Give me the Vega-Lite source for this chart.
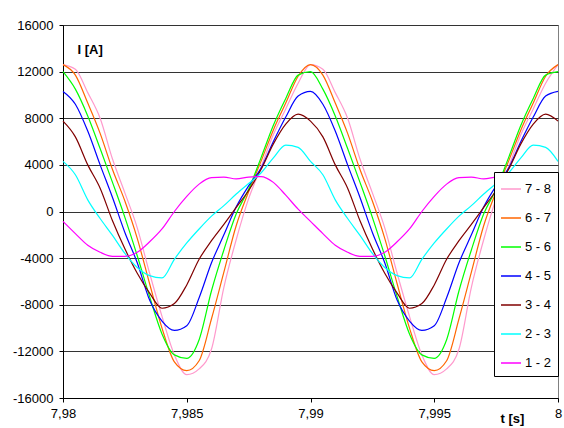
{
"$schema": "https://vega.github.io/schema/vega-lite/v6.json",
"width": 495, "height": 373,
"autosize": {"type": "none"},
"padding": {"left": 63, "top": 25, "right": 6, "bottom": 30},
"background": "white",
"config": {
  "locale": {"number": {"decimal": ",", "thousands": ".", "grouping": [3], "currency": ["", ""], "minus": "-"}},
  "view": {"stroke": "#808080", "strokeWidth": 1},
  "axis": {"labelFont": "Liberation Sans", "labelFontSize": 13, "labelColor": "#000", "titleFont": "Liberation Sans", "titleFontSize": 13, "titleColor": "#000", "domainColor": "#000", "tickColor": "#000", "labelFlush": false, "labelOverlap": false}
},
"data": {"values": [
{"t":7.98,"s":"7 - 8","v":12600},{"t":7.9805,"s":"7 - 8","v":12200},{"t":7.981,"s":"7 - 8","v":10200},{"t":7.9815,"s":"7 - 8","v":8000},{"t":7.982,"s":"7 - 8","v":4500},{"t":7.9825,"s":"7 - 8","v":1600},{"t":7.983,"s":"7 - 8","v":-1400},{"t":7.9835,"s":"7 - 8","v":-5300},{"t":7.984,"s":"7 - 8","v":-9000},{"t":7.9845,"s":"7 - 8","v":-12300},{"t":7.985,"s":"7 - 8","v":-14000},{"t":7.9855,"s":"7 - 8","v":-13500},{"t":7.986,"s":"7 - 8","v":-11800},{"t":7.9865,"s":"7 - 8","v":-6500},{"t":7.987,"s":"7 - 8","v":-2400},{"t":7.9875,"s":"7 - 8","v":1100},{"t":7.988,"s":"7 - 8","v":3800},{"t":7.9885,"s":"7 - 8","v":6600},{"t":7.989,"s":"7 - 8","v":8800},{"t":7.9895,"s":"7 - 8","v":11000},{"t":7.99,"s":"7 - 8","v":12600},
{"t":7.9905,"s":"7 - 8","v":12200},{"t":7.991,"s":"7 - 8","v":10200},{"t":7.9915,"s":"7 - 8","v":8000},{"t":7.992,"s":"7 - 8","v":4500},{"t":7.9925,"s":"7 - 8","v":1600},{"t":7.993,"s":"7 - 8","v":-1400},{"t":7.9935,"s":"7 - 8","v":-5300},{"t":7.994,"s":"7 - 8","v":-9000},{"t":7.9945,"s":"7 - 8","v":-12300},{"t":7.995,"s":"7 - 8","v":-14000},{"t":7.9955,"s":"7 - 8","v":-13500},{"t":7.996,"s":"7 - 8","v":-11800},{"t":7.9965,"s":"7 - 8","v":-6500},{"t":7.997,"s":"7 - 8","v":-2400},{"t":7.9975,"s":"7 - 8","v":1100},{"t":7.998,"s":"7 - 8","v":3800},{"t":7.9985,"s":"7 - 8","v":6600},{"t":7.999,"s":"7 - 8","v":8800},{"t":7.9995,"s":"7 - 8","v":11000},{"t":8,"s":"7 - 8","v":12600},
{"t":7.98,"s":"6 - 7","v":12600},{"t":7.9805,"s":"6 - 7","v":11700},{"t":7.981,"s":"6 - 7","v":9300},{"t":7.9815,"s":"6 - 7","v":6700},{"t":7.982,"s":"6 - 7","v":3600},{"t":7.9825,"s":"6 - 7","v":900},{"t":7.983,"s":"6 - 7","v":-2300},{"t":7.9835,"s":"6 - 7","v":-6200},{"t":7.984,"s":"6 - 7","v":-10000},{"t":7.9845,"s":"6 - 7","v":-12900},{"t":7.985,"s":"6 - 7","v":-13650},{"t":7.9855,"s":"6 - 7","v":-12800},{"t":7.986,"s":"6 - 7","v":-9200},{"t":7.9865,"s":"6 - 7","v":-5200},{"t":7.987,"s":"6 - 7","v":-1200},{"t":7.9875,"s":"6 - 7","v":1700},{"t":7.988,"s":"6 - 7","v":4300},{"t":7.9885,"s":"6 - 7","v":7000},{"t":7.989,"s":"6 - 7","v":9300},{"t":7.9895,"s":"6 - 7","v":11600},{"t":7.99,"s":"6 - 7","v":12600},
{"t":7.9905,"s":"6 - 7","v":11700},{"t":7.991,"s":"6 - 7","v":9300},{"t":7.9915,"s":"6 - 7","v":6700},{"t":7.992,"s":"6 - 7","v":3600},{"t":7.9925,"s":"6 - 7","v":900},{"t":7.993,"s":"6 - 7","v":-2300},{"t":7.9935,"s":"6 - 7","v":-6200},{"t":7.994,"s":"6 - 7","v":-10000},{"t":7.9945,"s":"6 - 7","v":-12900},{"t":7.995,"s":"6 - 7","v":-13650},{"t":7.9955,"s":"6 - 7","v":-12800},{"t":7.996,"s":"6 - 7","v":-9200},{"t":7.9965,"s":"6 - 7","v":-5200},{"t":7.997,"s":"6 - 7","v":-1200},{"t":7.9975,"s":"6 - 7","v":1700},{"t":7.998,"s":"6 - 7","v":4300},{"t":7.9985,"s":"6 - 7","v":7000},{"t":7.999,"s":"6 - 7","v":9300},{"t":7.9995,"s":"6 - 7","v":11600},{"t":8,"s":"6 - 7","v":12600},
{"t":7.98,"s":"5 - 6","v":12000},{"t":7.9805,"s":"5 - 6","v":10500},{"t":7.981,"s":"5 - 6","v":8200},{"t":7.9815,"s":"5 - 6","v":5400},{"t":7.982,"s":"5 - 6","v":2500},{"t":7.9825,"s":"5 - 6","v":-500},{"t":7.983,"s":"5 - 6","v":-3800},{"t":7.9835,"s":"5 - 6","v":-7300},{"t":7.984,"s":"5 - 6","v":-10500},{"t":7.9845,"s":"5 - 6","v":-12300},{"t":7.985,"s":"5 - 6","v":-12600},{"t":7.9855,"s":"5 - 6","v":-11000},{"t":7.986,"s":"5 - 6","v":-6800},{"t":7.9865,"s":"5 - 6","v":-3300},{"t":7.987,"s":"5 - 6","v":-200},{"t":7.9875,"s":"5 - 6","v":1900},{"t":7.988,"s":"5 - 6","v":4600},{"t":7.9885,"s":"5 - 6","v":7400},{"t":7.989,"s":"5 - 6","v":9700},{"t":7.9895,"s":"5 - 6","v":11700},{"t":7.99,"s":"5 - 6","v":12000},
{"t":7.9905,"s":"5 - 6","v":10500},{"t":7.991,"s":"5 - 6","v":8200},{"t":7.9915,"s":"5 - 6","v":5400},{"t":7.992,"s":"5 - 6","v":2500},{"t":7.9925,"s":"5 - 6","v":-500},{"t":7.993,"s":"5 - 6","v":-3800},{"t":7.9935,"s":"5 - 6","v":-7300},{"t":7.994,"s":"5 - 6","v":-10500},{"t":7.9945,"s":"5 - 6","v":-12300},{"t":7.995,"s":"5 - 6","v":-12600},{"t":7.9955,"s":"5 - 6","v":-11000},{"t":7.996,"s":"5 - 6","v":-6800},{"t":7.9965,"s":"5 - 6","v":-3300},{"t":7.997,"s":"5 - 6","v":-200},{"t":7.9975,"s":"5 - 6","v":1900},{"t":7.998,"s":"5 - 6","v":4600},{"t":7.9985,"s":"5 - 6","v":7400},{"t":7.999,"s":"5 - 6","v":9700},{"t":7.9995,"s":"5 - 6","v":11700},{"t":8,"s":"5 - 6","v":12000},
{"t":7.98,"s":"4 - 5","v":10300},{"t":7.9805,"s":"4 - 5","v":9200},{"t":7.981,"s":"4 - 5","v":6900},{"t":7.9815,"s":"4 - 5","v":4000},{"t":7.982,"s":"4 - 5","v":1200},{"t":7.9825,"s":"4 - 5","v":-1800},{"t":7.983,"s":"4 - 5","v":-4400},{"t":7.9835,"s":"4 - 5","v":-7600},{"t":7.984,"s":"4 - 5","v":-9400},{"t":7.9845,"s":"4 - 5","v":-10200},{"t":7.985,"s":"4 - 5","v":-9800},{"t":7.9855,"s":"4 - 5","v":-7400},{"t":7.986,"s":"4 - 5","v":-4400},{"t":7.9865,"s":"4 - 5","v":-2000},{"t":7.987,"s":"4 - 5","v":400},{"t":7.9875,"s":"4 - 5","v":2200},{"t":7.988,"s":"4 - 5","v":3700},{"t":7.9885,"s":"4 - 5","v":6000},{"t":7.989,"s":"4 - 5","v":8100},{"t":7.9895,"s":"4 - 5","v":9900},{"t":7.99,"s":"4 - 5","v":10300},
{"t":7.9905,"s":"4 - 5","v":9200},{"t":7.991,"s":"4 - 5","v":6900},{"t":7.9915,"s":"4 - 5","v":4000},{"t":7.992,"s":"4 - 5","v":1200},{"t":7.9925,"s":"4 - 5","v":-1800},{"t":7.993,"s":"4 - 5","v":-4400},{"t":7.9935,"s":"4 - 5","v":-7600},{"t":7.994,"s":"4 - 5","v":-9400},{"t":7.9945,"s":"4 - 5","v":-10200},{"t":7.995,"s":"4 - 5","v":-9800},{"t":7.9955,"s":"4 - 5","v":-7400},{"t":7.996,"s":"4 - 5","v":-4400},{"t":7.9965,"s":"4 - 5","v":-2000},{"t":7.997,"s":"4 - 5","v":400},{"t":7.9975,"s":"4 - 5","v":2200},{"t":7.998,"s":"4 - 5","v":3700},{"t":7.9985,"s":"4 - 5","v":6000},{"t":7.999,"s":"4 - 5","v":8100},{"t":7.9995,"s":"4 - 5","v":9900},{"t":8,"s":"4 - 5","v":10300},
{"t":7.98,"s":"3 - 4","v":7750},{"t":7.9805,"s":"3 - 4","v":6400},{"t":7.981,"s":"3 - 4","v":4000},{"t":7.9815,"s":"3 - 4","v":2000},{"t":7.982,"s":"3 - 4","v":-800},{"t":7.9825,"s":"3 - 4","v":-3200},{"t":7.983,"s":"3 - 4","v":-5300},{"t":7.9835,"s":"3 - 4","v":-7000},{"t":7.984,"s":"3 - 4","v":-8300},{"t":7.9845,"s":"3 - 4","v":-7900},{"t":7.985,"s":"3 - 4","v":-6300},{"t":7.9855,"s":"3 - 4","v":-4100},{"t":7.986,"s":"3 - 4","v":-2500},{"t":7.9865,"s":"3 - 4","v":-1100},{"t":7.987,"s":"3 - 4","v":350},{"t":7.9875,"s":"3 - 4","v":1800},{"t":7.988,"s":"3 - 4","v":3600},{"t":7.9885,"s":"3 - 4","v":5800},{"t":7.989,"s":"3 - 4","v":7500},{"t":7.9895,"s":"3 - 4","v":8350},{"t":7.99,"s":"3 - 4","v":7750},
{"t":7.9905,"s":"3 - 4","v":6400},{"t":7.991,"s":"3 - 4","v":4000},{"t":7.9915,"s":"3 - 4","v":2000},{"t":7.992,"s":"3 - 4","v":-800},{"t":7.9925,"s":"3 - 4","v":-3200},{"t":7.993,"s":"3 - 4","v":-5300},{"t":7.9935,"s":"3 - 4","v":-7000},{"t":7.994,"s":"3 - 4","v":-8300},{"t":7.9945,"s":"3 - 4","v":-7900},{"t":7.995,"s":"3 - 4","v":-6300},{"t":7.9955,"s":"3 - 4","v":-4100},{"t":7.996,"s":"3 - 4","v":-2500},{"t":7.9965,"s":"3 - 4","v":-1100},{"t":7.997,"s":"3 - 4","v":350},{"t":7.9975,"s":"3 - 4","v":1800},{"t":7.998,"s":"3 - 4","v":3600},{"t":7.9985,"s":"3 - 4","v":5800},{"t":7.999,"s":"3 - 4","v":7500},{"t":7.9995,"s":"3 - 4","v":8350},{"t":8,"s":"3 - 4","v":7750},
{"t":7.98,"s":"2 - 3","v":4300},{"t":7.9805,"s":"2 - 3","v":3150},{"t":7.981,"s":"2 - 3","v":1000},{"t":7.9815,"s":"2 - 3","v":-600},{"t":7.982,"s":"2 - 3","v":-2050},{"t":7.9825,"s":"2 - 3","v":-3600},{"t":7.983,"s":"2 - 3","v":-4800},{"t":7.9835,"s":"2 - 3","v":-5500},{"t":7.984,"s":"2 - 3","v":-5700},{"t":7.9845,"s":"2 - 3","v":-4100},{"t":7.985,"s":"2 - 3","v":-2700},{"t":7.9855,"s":"2 - 3","v":-1500},{"t":7.986,"s":"2 - 3","v":-400},{"t":7.9865,"s":"2 - 3","v":500},{"t":7.987,"s":"2 - 3","v":1500},{"t":7.9875,"s":"2 - 3","v":2400},{"t":7.988,"s":"2 - 3","v":3300},{"t":7.9885,"s":"2 - 3","v":4600},{"t":7.989,"s":"2 - 3","v":5700},{"t":7.9895,"s":"2 - 3","v":5500},{"t":7.99,"s":"2 - 3","v":4300},
{"t":7.9905,"s":"2 - 3","v":3150},{"t":7.991,"s":"2 - 3","v":1000},{"t":7.9915,"s":"2 - 3","v":-600},{"t":7.992,"s":"2 - 3","v":-2050},{"t":7.9925,"s":"2 - 3","v":-3600},{"t":7.993,"s":"2 - 3","v":-4800},{"t":7.9935,"s":"2 - 3","v":-5500},{"t":7.994,"s":"2 - 3","v":-5700},{"t":7.9945,"s":"2 - 3","v":-4100},{"t":7.995,"s":"2 - 3","v":-2700},{"t":7.9955,"s":"2 - 3","v":-1500},{"t":7.996,"s":"2 - 3","v":-400},{"t":7.9965,"s":"2 - 3","v":500},{"t":7.997,"s":"2 - 3","v":1500},{"t":7.9975,"s":"2 - 3","v":2400},{"t":7.998,"s":"2 - 3","v":3300},{"t":7.9985,"s":"2 - 3","v":4600},{"t":7.999,"s":"2 - 3","v":5700},{"t":7.9995,"s":"2 - 3","v":5500},{"t":8,"s":"2 - 3","v":4300},
{"t":7.98,"s":"1 - 2","v":-850},{"t":7.9805,"s":"1 - 2","v":-1900},{"t":7.981,"s":"1 - 2","v":-2900},{"t":7.9815,"s":"1 - 2","v":-3500},{"t":7.982,"s":"1 - 2","v":-3850},{"t":7.9825,"s":"1 - 2","v":-3850},{"t":7.983,"s":"1 - 2","v":-3500},{"t":7.9835,"s":"1 - 2","v":-2600},{"t":7.984,"s":"1 - 2","v":-1500},{"t":7.9845,"s":"1 - 2","v":0},{"t":7.985,"s":"1 - 2","v":1300},{"t":7.9855,"s":"1 - 2","v":2350},{"t":7.986,"s":"1 - 2","v":2900},{"t":7.9865,"s":"1 - 2","v":2950},{"t":7.987,"s":"1 - 2","v":2800},{"t":7.9875,"s":"1 - 2","v":2950},{"t":7.988,"s":"1 - 2","v":3000},{"t":7.9885,"s":"1 - 2","v":2500},{"t":7.989,"s":"1 - 2","v":1400},{"t":7.9895,"s":"1 - 2","v":200},{"t":7.99,"s":"1 - 2","v":-850},
{"t":7.9905,"s":"1 - 2","v":-1900},{"t":7.991,"s":"1 - 2","v":-2900},{"t":7.9915,"s":"1 - 2","v":-3500},{"t":7.992,"s":"1 - 2","v":-3850},{"t":7.9925,"s":"1 - 2","v":-3850},{"t":7.993,"s":"1 - 2","v":-3500},{"t":7.9935,"s":"1 - 2","v":-2600},{"t":7.994,"s":"1 - 2","v":-1500},{"t":7.9945,"s":"1 - 2","v":0},{"t":7.995,"s":"1 - 2","v":1300},{"t":7.9955,"s":"1 - 2","v":2350},{"t":7.996,"s":"1 - 2","v":2900},{"t":7.9965,"s":"1 - 2","v":2950},{"t":7.997,"s":"1 - 2","v":2800},{"t":7.9975,"s":"1 - 2","v":2950},{"t":7.998,"s":"1 - 2","v":3000},{"t":7.9985,"s":"1 - 2","v":2500},{"t":7.999,"s":"1 - 2","v":1400},{"t":7.9995,"s":"1 - 2","v":200},{"t":8,"s":"1 - 2","v":-850}
]},
"mark": {"type": "line", "interpolate": "monotone", "strokeWidth": 1.2},
"encoding": {
  "x": {"field": "t", "type": "quantitative",
    "scale": {"domain": [7.98, 8], "nice": false, "zero": false},
    "axis": {"values": [7.98, 7.985, 7.99, 7.995, 8], "format": "~g", "grid": false, "tickSize": 4, "labelPadding": 5,
      "title": "t [s]", "titleFontWeight": "bold", "titleX": 437, "titleY": 24, "titleAlign": "left", "titleBaseline": "alphabetic"}},
  "y": {"field": "v", "type": "quantitative",
    "scale": {"domain": [-16000, 16000], "nice": false},
    "axis": {"values": [-16000, -12000, -8000, -4000, 0, 4000, 8000, 12000, 16000], "format": "d", "grid": true, "gridColor": "#333", "gridWidth": 1,
      "tickSize": 4, "labelPadding": 6,
      "title": "I [A]", "titleAngle": 0, "titleX": 14, "titleY": 28, "titleAlign": "left", "titleBaseline": "alphabetic", "titleFontWeight": "bold"}},
  "color": {"field": "s", "type": "nominal",
    "scale": {"domain": ["7 - 8", "6 - 7", "5 - 6", "4 - 5", "3 - 4", "2 - 3", "1 - 2"],
              "range": ["#FF99CC", "#FF6600", "#00FF00", "#0000FF", "#800000", "#00FFFF", "#FF00FF"]},
    "legend": {"title": null, "orient": "none", "legendX": 431, "legendY": 147, "fillColor": "white", "strokeColor": "#000",
      "padding": 6, "symbolType": "stroke", "symbolSize": 400, "symbolStrokeWidth": 1.5, "labelFont": "Liberation Sans",
      "labelFontSize": 13, "labelColor": "#000", "labelOffset": 3, "rowPadding": 11}}
}
}
